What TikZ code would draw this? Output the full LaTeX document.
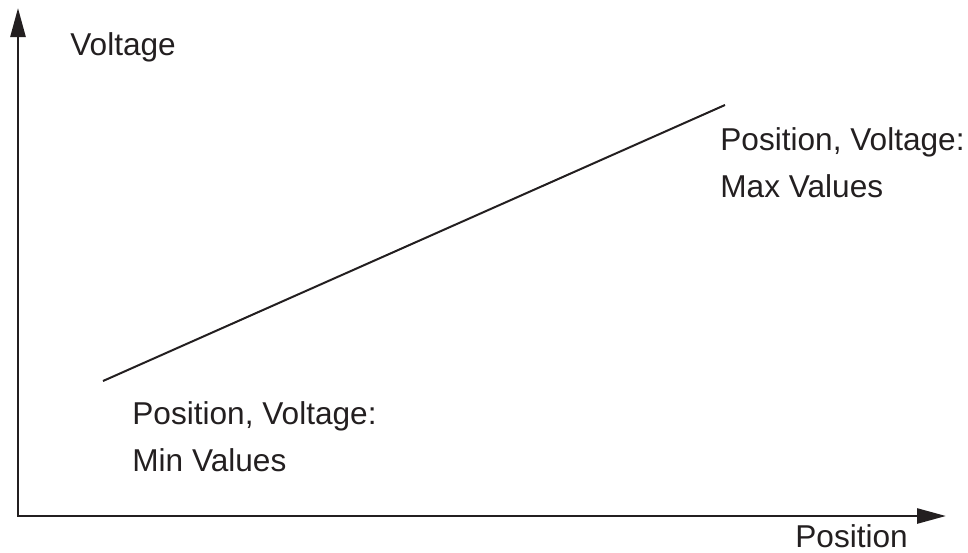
\documentclass[tikz,border=0pt]{standalone}
\usepackage{fontspec}
\setmainfont{Liberation Sans}
\usepackage{tikz}
\usetikzlibrary{arrows.meta, positioning, calc}
\definecolor{ink}{HTML}{231F20}

\begin{document}
\begin{tikzpicture}[x=0.5pt, y=-0.5pt,
  axis/.style={draw=ink, line width=1.3pt, -{Triangle[length=14.5pt, width=7.5pt]}},
  lbl/.style={inner sep=0, anchor=base west, align=left, text=ink, font=\fontsize{15.8pt}{23.5pt}\selectfont}]

\useasboundingbox (0,0) rectangle (968,552);

\coordinate (origin) at (18,516);
\coordinate (ytip) at (18,8);
\coordinate (xtip) at (946,516);

\node[lbl] (ylab) at (70,55) {Voltage};
\node[lbl] (xlab) at (795,547) {Position};

\coordinate (lo) at (103,381);
\coordinate (hi) at (725,105);

% base anchor sits on the last line
\node[lbl] (maxlab) at (720,197) {Position, Voltage:\\Max Values};
\node[lbl] (minlab) at (132,471) {Position, Voltage:\\Min Values};

\draw[axis] ($(origin)+(0,0.65)$) -- (ytip);
\draw[axis] ($(origin)+(-0.65,0)$) -- (xtip);

\draw[ink, line width=1pt] (lo) -- (hi);

\end{tikzpicture}
\end{document}
